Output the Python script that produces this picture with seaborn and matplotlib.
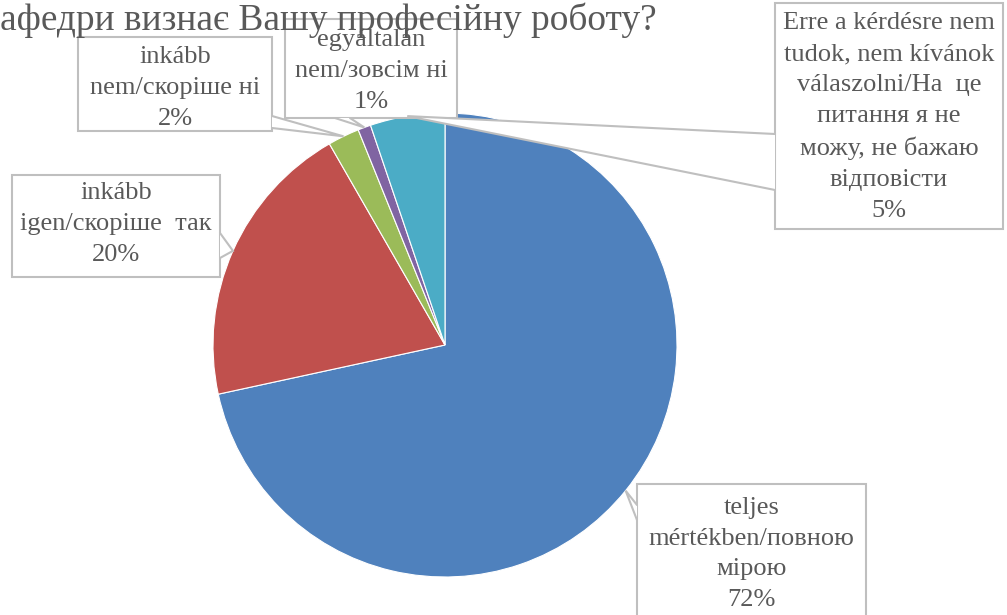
import numpy as np
import matplotlib.pyplot as plt
import seaborn as sns
from matplotlib.patches import Polygon, Rectangle

# Data
categories = [
    "teljes\nmértékben/повною\nмірою",
    "inkább\nigen/скоріше  так",
    "inkább\nnem/скоріше ні",
    "egyáltalán\nnem/зовсім ні",
    "Erre a kérdésre nem\ntudok, nem kívánok\nválaszolni/На  це\nпитання я не\nможу, не бажаю\nвідповісти",
]
shares = [71.6, 20.1, 2.2, 0.9, 5.2]
colors = ["#4F81BD", "#C0504D", "#9BBB59", "#8064A2", "#4BACC6"]
title = "афедри визнає Вашу професійну роботу?"

W, H = 1007, 615
# label boxes in pixels (x0, y0, x1, y1), y measured from the top
boxes = [
    (637, 484, 866, 630),
    (12, 175, 220, 277),
    (78, 37, 272, 131),
    (285, 19, 457, 118),
    (775, 3, 1003, 229),
]
# vertical centre of the label text inside each box
text_y = [554, 224, 88, 71, 117]
# where the pointer leaves the box: two points on the box edge
bases = [
    [(637, 505), (637, 520)],
    [(220, 233), (220, 258)],
    [(272, 116), (272, 128)],
    [(335, 118), (350, 118)],
    [(775, 134), (775, 190)],
]
GRAY = "#595959"
LINE = "#BFBFBF"


def to_up(pt):
    return pt[0], H - pt[1]


def draw_callout(ax, box, ty, base, tip, text):
    x0, y0, x1, y1 = box
    rect = Rectangle((x0, H - y1), x1 - x0, y1 - y0, facecolor="white",
                     edgecolor=LINE, linewidth=1.5, zorder=4)
    ax.add_patch(rect)
    b1, b2 = to_up(base[0]), to_up(base[1])
    tri = Polygon([b1, tip, b2], closed=True, facecolor="white",
                  edgecolor="none", zorder=5)
    ax.add_patch(tri)
    ax.plot([b1[0], tip[0], b2[0]], [b1[1], tip[1], b2[1]], color=LINE,
            linewidth=1.5, zorder=6, solid_joinstyle="miter")
    ax.text((x0 + x1) / 2, H - ty, text, ha="center", va="center",
            fontsize=19, color=GRAY, linespacing=1.52, zorder=7)


def plot_figure():
    sns.set_theme(style="white")
    plt.rcParams["font.family"] = ["Liberation Serif", "DejaVu Serif"]
    fig = plt.figure(figsize=(W / 100, H / 100), dpi=100)
    ax = fig.add_axes([0, 0, 1, 1])
    cx, cy, R = 445, H - 345, 232
    wedges, _ = ax.pie(shares, colors=colors, startangle=90, counterclock=False,
                       center=(cx, cy), radius=R,
                       wedgeprops=dict(edgecolor="white", linewidth=0.8))
    labels = [c + "\n" + "%.0f%%" % s for c, s in zip(categories, shares)]
    for w, box, ty, base, lab in zip(wedges, boxes, text_y, bases, labels):
        mid = np.deg2rad((w.theta1 + w.theta2) / 2)
        tip = (cx + R * np.cos(mid), cy + R * np.sin(mid))
        draw_callout(ax, box, ty, base, tip, lab)
    ax.text(0, H - 30, title, ha="left", va="baseline", fontsize=26.9,
            color=GRAY, zorder=10)
    ax.set_xlim(0, W)
    ax.set_ylim(0, H)
    ax.set_aspect("auto")
    ax.axis("off")
    fig.savefig("out.png", dpi=100)


if __name__ == "__main__":
    plot_figure()
